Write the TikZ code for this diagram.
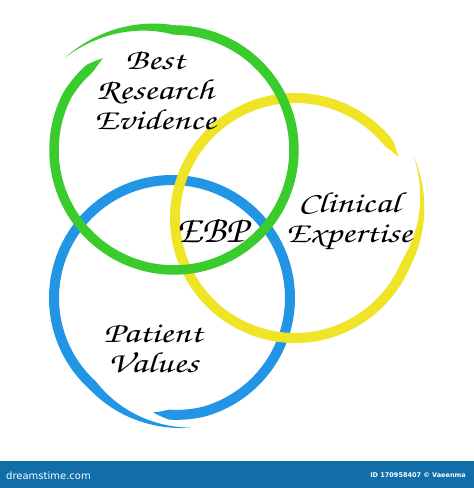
\documentclass[tikz,border=0pt]{standalone}
\usepackage[T1]{fontenc}
\usepackage{fontspec}
\usepackage{xcolor}
\usepackage{tikz}
\usetikzlibrary{calc}
\newfontfamily\barfont{DejaVu Sans}
\newcommand{\mano}{\usefont{T1}{pzc}{mb}{it}}
\definecolor{verde}{RGB}{58,204,44}
\definecolor{amarillo}{RGB}{240,228,38}
\definecolor{azul}{RGB}{34,150,228}
\definecolor{franja}{RGB}{18,110,168}
% brush stroke: color, cx, cy, R, start angle, end angle, start radius, end radius, width
\newcommand{\trazo}[9]{%
  \begin{scope}[declare function={
      radtrazo(\t)=#4+(#7-#4)*max(0,1-(#5-\t)/50)+(#8-#4)*max(0,1-(\t-#6)/25);
      anchotrazo(\t)=#9*min(1,(#5-\t)/50)*min(1,(\t-#6)/8);}]
    \fill[#1] plot[domain=#5:#6,samples=240] ({#2+(radtrazo(\x)+anchotrazo(\x)/2)*cos(\x)},{#3+(radtrazo(\x)+anchotrazo(\x)/2)*sin(\x)})
      -- plot[domain=#6:#5,samples=240] ({#2+(radtrazo(\x)-anchotrazo(\x)/2)*cos(\x)},{#3+(radtrazo(\x)-anchotrazo(\x)/2)*sin(\x)}) -- cycle;
  \end{scope}}
\tikzset{
  texto/.style={align=center,inner sep=0pt,xscale=1.3,transform shape,font=\mano\fontsize{29}{30}\selectfont},
  sigla/.style={inner sep=0pt,xscale=1.05,transform shape,font=\mano\fontsize{38}{40}\selectfont},
  marca/.style={text=white,inner sep=0pt}
}
\begin{document}
\begin{tikzpicture}[x=1pt,y=1pt]
\useasboundingbox (0,0) rectangle (474,488);
\fill[white] (0,0) rectangle (474,488);
\trazo{azul}{172}{190}{118}{-82}{-459.4}{131}{116}{10}
\trazo{amarillo}{295}{270}{120}{28}{-329.4}{134}{120}{10}
\trazo{verde}{174}{338}{120}{140}{-232.3}{143}{116}{9.5}
\node[texto] (best) at (155,398) {Best\\Research\\Evidence};
\node[sigla] (ebp) at (212,258) {EBP};
\node[texto] (clin) at (349,266) {Clinical\\Expertise};
\node[texto] (pat) at (153,139) {Patient\\Values};
\fill[franja] (0,0) rectangle (474,27);
\node[marca,anchor=west,font=\barfont\fontsize{10}{12}\selectfont] (sitio) at (6,12) {dreamstime.com};
\node[marca,anchor=east,font=\barfont\bfseries\fontsize{6.5}{8}\selectfont] (id) at (466,13) {ID 170958407 © Vaeenma};
\end{tikzpicture}
\end{document}
